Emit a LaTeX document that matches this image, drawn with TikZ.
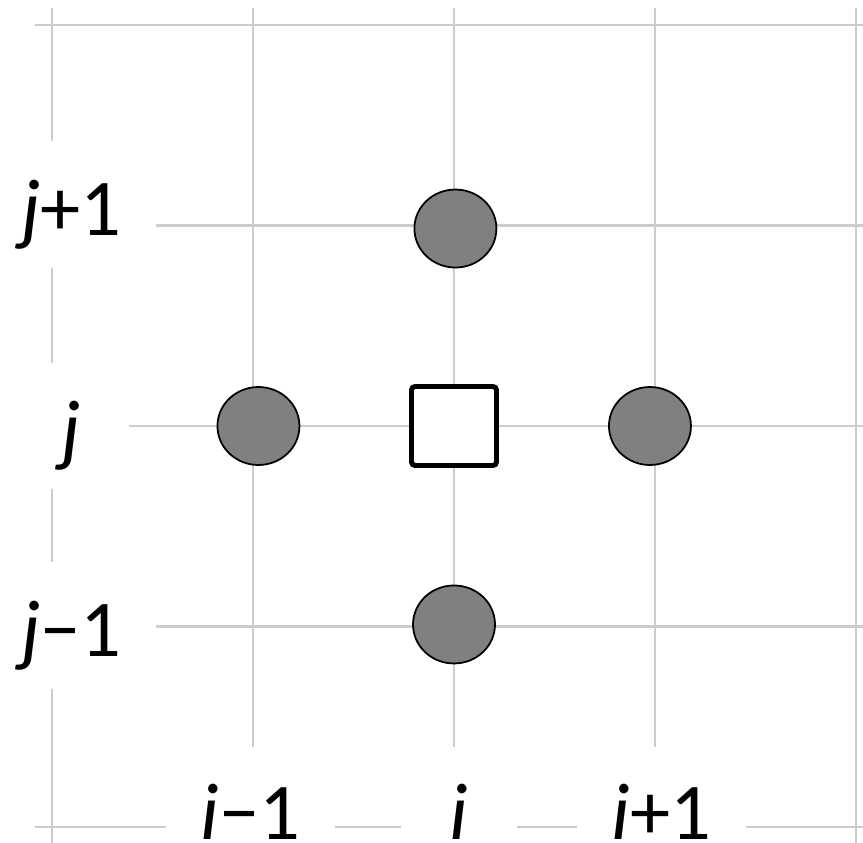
\documentclass[tikz,border=0pt]{standalone}
\usepackage{fontspec}
\setmainfont{Carlito}
\usetikzlibrary{shapes.geometric}
\definecolor{cgrid}{HTML}{CCCCCC}
\definecolor{cdot}{HTML}{808080}
\tikzset{
  gridline/.style={draw=cgrid, line width=0.6pt},
  lab/.style={fill=white, inner xsep=0.35cm, inner ysep=0.195cm, text height=0.75cm, text depth=0.13cm,
              minimum width=1.16cm, font=\fontsize{22.9}{26}\selectfont},
  labbot/.style={lab, inner ysep=0.03cm, text height=0.9cm, text depth=0cm},
  nb/.style={ellipse, draw=black, fill=cdot, line width=0.5pt, minimum width=0.82cm, minimum height=0.78cm, inner sep=0pt},
  centre/.style={rectangle, draw=black, fill=white, line width=1.4pt, rounded corners=1pt,
                 minimum width=0.85cm, minimum height=0.79cm, inner sep=0pt},
}
\begin{document}
\begin{tikzpicture}[x=2.01cm, y=2.005cm]
  \useasboundingbox (-0.259,-0.08) rectangle (4.035,4.125);
  \clip (-0.259,-0.08) rectangle (4.035,4.125);
  % grid
  \foreach \k in {0,...,4} {
    \draw[gridline] (\k,-0.3) -- (\k,4.085);
    \draw[gridline] (-0.085,\k) -- (4.3,\k);
  }
  % index labels
  \foreach \txt/\y/\nm in {{\textit{j}+1}/3.107/jp, {\textit{j}}/2/jo, {\textit{j}−1}/1.005/jm}
    \node[lab] (\nm) at (0.095,\y) {\txt};
  \foreach \txt/\x/\nm in {{\textit{i}−1}/0.988/im, {\textit{i}}/2.025/io, {\textit{i}+1}/3.032/ip}
    \node[labbot] (\nm) at (\x,0.16) {\txt};
  % stencil
  \node[centre] (c) at (2,2) {};
  \node[nb] (n) at (2.007,2.985) {};
  \node[nb] (s) at (2,1.01) {};
  \node[nb] (w) at (1.027,2) {};
  \node[nb] (e) at (2.975,2) {};
\end{tikzpicture}
\end{document}
